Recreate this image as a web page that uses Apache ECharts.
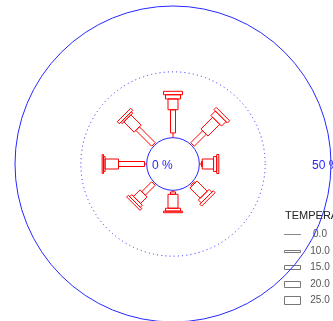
<!DOCTYPE html>
<html><head><meta charset="utf-8">
<script src="https://cdn.jsdelivr.net/npm/echarts@6/dist/echarts.min.js"></script>
<style>html,body{margin:0;padding:0;background:#fff}#c{width:333px;height:321px}</style>
</head><body><div id="c"></div>
<script>
// Directions (compass degrees, 0 = north, clockwise)
const directions = ['N','NE','E','SE','S','SW','W','NW'];
const dirAngles = [0,45,90,135,180,225,270,315];
// Frequency (%) per temperature class, per direction
const levelLabels = ['0.0','10.0','15.0','20.0','25.0'];
const lev0  = [1.8,0.5,0.8,0.5,0.6,0.5,0.8,0.5];
const lev10 = [8.8,6.4,0.3,0.5,0.9,5.3,9.9,8.5];
const lev15 = [4.1,6.3,4.3,5.5,5.3,3.5,5.1,5.5];
const lev20 = [1.6,2.4,1.2,1.5,1.1,1.1,0.6,0.7];
const lev25 = [1.3,1.2,0.8,1.0,0.6,0.9,0.5,1.1];
const ringValues = [0,25,50];
const centerLabel = '0 %';
const outerLabel = '50 %';
const legendTitle = 'TEMPERATURE';

const levels = [lev0, lev10, lev15, lev20, lev25];
const segWidths = [1,5,10,15,19];
const legendHeights = [0,2,4,6,8];

// build stacked segments
const segData = [];
for (let d = 0; d < directions.length; d++) {
  let acc = 0;
  for (let k = 0; k < levels.length; k++) {
    const v = levels[k][d];
    segData.push([acc, acc + v, dirAngles[d], k]);
    acc += v;
  }
}

const RED = '#ff0000';
const BLUE = '#2828ff';

const chart = echarts.init(document.getElementById('c'), null, {renderer:'canvas'});

const legendGraphics = [{
  type:'text', left:285, top:210,
  style:{text:legendTitle, fill:'#222', font:'11px "Liberation Sans", Arial, sans-serif'}
}];
const rowY = [234,251,267,284,300];
levelLabels.forEach((lab,i)=>{
  if (legendHeights[i] === 0) {
    legendGraphics.push({type:'line', shape:{x1:284,y1:rowY[i]+0.5,x2:301,y2:rowY[i]+0.5},
      style:{stroke:'#888', lineWidth:1}});
  } else {
    const h = legendHeights[i];
    legendGraphics.push({type:'rect', shape:{x:284.5,y:Math.round(rowY[i]-h/2)+0.5,width:16,height:h},
      style:{stroke:'#777', fill:'none', lineWidth:1}});
  }
  legendGraphics.push({type:'text', x:320, y:rowY[i],
    style:{text:lab, fill:'#555', align:'center', verticalAlign:'middle',
      font:'10px "Liberation Sans", Arial, sans-serif'}});
});

chart.setOption({
  animation:false,
  backgroundColor:'#fff',
  polar:{center:[173,164],radius:158},
  angleAxis:{type:'value',min:0,max:360,startAngle:90,clockwise:true,
    axisLine:{show:false},axisTick:{show:false},axisLabel:{show:false},splitLine:{show:false}},
  radiusAxis:{type:'value',min:-10,max:50,
    axisLine:{show:false},axisTick:{show:false},axisLabel:{show:false},splitLine:{show:false}},
  graphic: legendGraphics,
  series:[
    {
      type:'custom', coordinateSystem:'polar', silent:true,
      data: ringValues.map((v,i)=>[v,0,i]),
      encode:{radius:0, angle:1},
      renderItem:function(params, api){
        const c = api.coord([-10,0]);
        const p = api.coord([api.value(0),0]);
        const r = Math.hypot(p[0]-c[0], p[1]-c[1]);
        const idx = api.value(2);
        const children = [{
          type:'circle', shape:{cx:c[0],cy:c[1],r:r},
          style:{stroke:BLUE, fill:'none', lineWidth:1, lineDash: idx===1?[1,3.2]:null}
        }];
        if (idx === 0) {
          children.push({type:'text', x:c[0]-21, y:c[1]+2,
            style:{text:centerLabel, fill:BLUE, verticalAlign:'middle',
              font:'12px "Liberation Sans", Arial, sans-serif'}});
        }
        if (idx === 2) {
          children.push({type:'text', x:c[0]+r-19, y:c[1]+2,
            style:{text:outerLabel, fill:BLUE, verticalAlign:'middle',
              font:'12px "Liberation Sans", Arial, sans-serif'}});
        }
        return {type:'group', children:children};
      }
    },
    {
      type:'custom', coordinateSystem:'polar', silent:true,
      data: segData,
      encode:{radius:[0,1], angle:2},
      renderItem:function(params, api){
        const s = api.value(0), e = api.value(1), a = api.value(2), k = api.value(3);
        if (e - s <= 0) return null;
        const p0 = api.coord([s,a]);
        const p1 = api.coord([e,a]);
        const dx = p1[0]-p0[0], dy = p1[1]-p0[1];
        const len = Math.hypot(dx,dy) || 1;
        const ux = dx/len, uy = dy/len;
        const nx = -uy, ny = ux;
        if (k === 0) {
          return {type:'line', shape:{x1:p0[0],y1:p0[1],x2:p1[0],y2:p1[1]},
            style:{stroke:RED, lineWidth:1}};
        }
        const w = segWidths[k]/2;
        return {type:'polygon', shape:{points:[
          [p0[0]+nx*w, p0[1]+ny*w],[p1[0]+nx*w, p1[1]+ny*w],
          [p1[0]-nx*w, p1[1]-ny*w],[p0[0]-nx*w, p0[1]-ny*w]]},
          style:{stroke:RED, fill:'none', lineWidth:1}};
      }
    }
  ]
});
</script></body></html>
